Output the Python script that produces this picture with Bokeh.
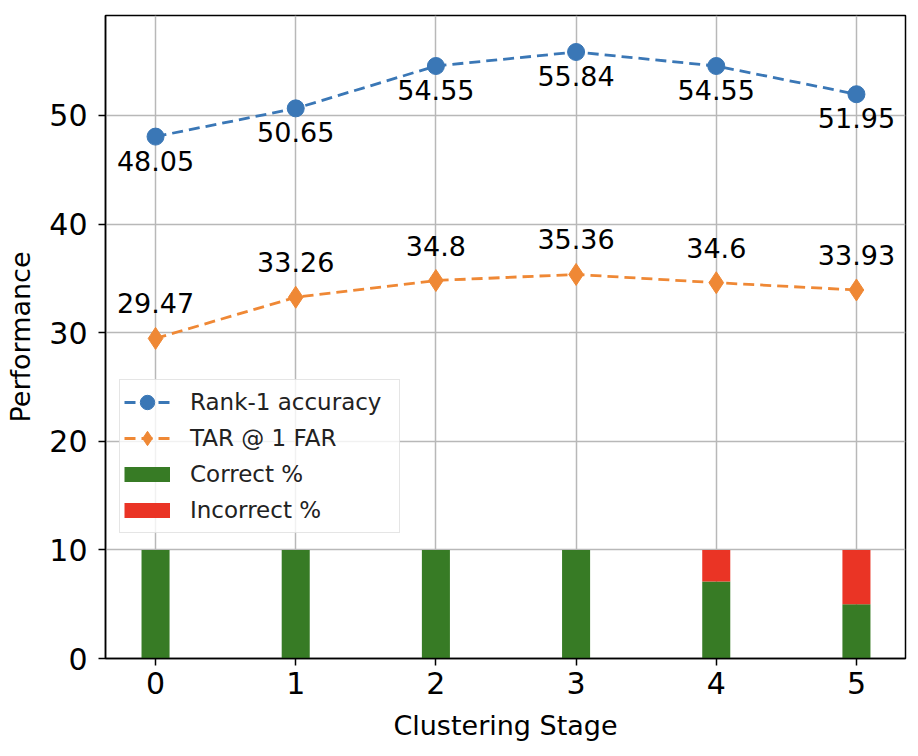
from bokeh.plotting import figure
from bokeh.models import Range1d, FixedTicker, Legend, LegendItem, ColumnDataSource
from bokeh.core.properties import value
from bokeh.embed import file_html
from bokeh.resources import INLINE

# ---- data ----
stages = [0, 1, 2, 3, 4, 5]
rank1 = [48.05, 50.65, 54.55, 55.84, 54.55, 51.95]
tar = [29.47, 33.26, 34.8, 35.36, 34.6, 33.93]
rank1_labels = ["48.05", "50.65", "54.55", "55.84", "54.55", "51.95"]
tar_labels = ["29.47", "33.26", "34.8", "35.36", "34.6", "33.93"]
correct = [10, 10, 10, 10, 7.1, 5.0]
incorrect = [0, 0, 0, 0, 2.9, 5.0]
y_ticks = [0, 10, 20, 30, 40, 50]

FONT = "DejaVu Sans"
BLUE = "#3a77b6"
ORANGE = "#ef8835"
GREEN = "#377b25"
RED = "#ea3425"

p = figure(width=910, height=750, output_backend="svg", toolbar_location=None,
           x_range=Range1d(-0.357, 5.35), y_range=Range1d(0, 59.2))
p.min_border_left = 105
p.min_border_right = 5
p.min_border_top = 15
p.min_border_bottom = 92

p.outline_line_color = "black"
p.outline_line_width = 1.5
p.background_fill_color = "white"

for ax in (p.xaxis[0], p.yaxis[0]):
    ax.major_label_text_font = FONT
    ax.major_label_text_font_size = "30px"
    ax.major_label_text_color = "black"
    ax.axis_label_text_font = FONT
    ax.axis_label_text_font_size = "27px"
    ax.axis_label_text_font_style = "normal"
    ax.axis_label_text_color = "black"
    ax.axis_line_color = "black"
    ax.axis_line_width = 1.5
    ax.major_tick_line_color = "black"
    ax.major_tick_line_width = 1.5
    ax.major_tick_out = 7
    ax.major_tick_in = 0
    ax.minor_tick_line_color = None

p.xaxis.ticker = FixedTicker(ticks=stages)
p.yaxis.ticker = FixedTicker(ticks=y_ticks)
p.xaxis.axis_label = "Clustering Stage"
p.yaxis.axis_label = "Performance"
p.xaxis.major_label_standoff = 6
p.yaxis.major_label_standoff = 11
p.xaxis.axis_label_standoff = 13
p.yaxis.axis_label_standoff = 10

p.xgrid.grid_line_color = "#b8b8b8"
p.ygrid.grid_line_color = "#b8b8b8"
p.xgrid.grid_line_width = 1.5
p.ygrid.grid_line_width = 1.5

src = ColumnDataSource(dict(x=stages, rank1=rank1, tar=tar, r1l=rank1_labels, tl=tar_labels,
                            correct=correct, incorrect=incorrect))

bars = p.vbar_stack(["correct", "incorrect"], x="x", width=0.2, source=src,
                    color=[GREEN, RED], line_color=None)

l1 = p.line("x", "rank1", source=src, line_color=BLUE, line_width=2.8, line_dash="11 6")
m1 = p.scatter("x", "rank1", source=src, marker="circle", size=17, fill_color=BLUE, line_color=BLUE)
l2 = p.line("x", "tar", source=src, line_color=ORANGE, line_width=2.8, line_dash="11 6")
m2 = p.scatter("x", "tar", source=src, marker="diamond", size=22, fill_color=ORANGE, line_color=ORANGE)

# legend proxies (thick line swatches like matplotlib patches); nothing is drawn on the plot
nan = float("nan")
g_proxy = p.line(x=[nan], y=[nan], line_color=GREEN, line_width=15, line_cap="butt")
r_proxy = p.line(x=[nan], y=[nan], line_color=RED, line_width=15, line_cap="butt")

p.text("x", "rank1", text="r1l", source=src, text_align="center", text_baseline="alphabetic",
       y_offset=24, text_font=value(FONT), text_font_size="27px", text_color="black")
p.text("x", "tar", text="tl", source=src, text_align="center", text_baseline="alphabetic",
       y_offset=-35, text_font=value(FONT), text_font_size="27px", text_color="black")

legend = Legend(items=[
    LegendItem(label="Rank-1 accuracy", renderers=[l1, m1]),
    LegendItem(label="TAR @ 1 FAR", renderers=[l2, m2]),
    LegendItem(label="Correct %", renderers=[g_proxy]),
    LegendItem(label="Incorrect %", renderers=[r_proxy]),
], location=(14, 125))
legend.label_text_font = FONT
legend.label_text_font_size = "23px"
legend.label_text_color = "#222222"
legend.glyph_width = 46
legend.glyph_height = 36
legend.label_height = 36
legend.label_width = 205
legend.spacing = 0
legend.padding = 4
legend.margin = 0
legend.label_standoff = 20
legend.border_line_color = "#cccccc"
legend.border_line_width = 1.5
legend.background_fill_alpha = 0.8
p.add_layout(legend, "center")

open("out.html", "w").write(file_html(p, INLINE))
